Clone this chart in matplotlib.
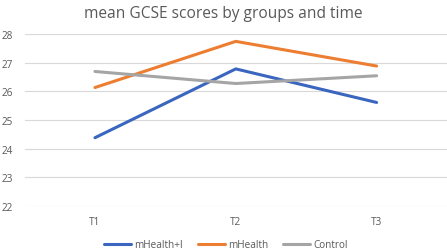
import matplotlib
matplotlib.use("Agg")
import matplotlib.pyplot as plt

categories = ["T1", "T2", "T3"]
mhealth_i = [24.38, 26.78, 25.61]
mhealth = [26.13, 27.74, 26.88]
control = [26.69, 26.27, 26.54]
yticks = [22, 23, 24, 25, 26, 27, 28]

plt.rcParams['font.family'] = ['Open Sans', 'DejaVu Sans']
fig = plt.figure(figsize=(4.47, 2.53), dpi=100)
ax = fig.add_axes([0.055, 0.182, 0.945, 0.68])

x = range(len(categories))
ax.plot(x, mhealth_i, color="#3A66BF", lw=2.2, label="mHealth+I", solid_capstyle="round")
ax.plot(x, mhealth, color="#ED7D31", lw=2.2, label="mHealth", solid_capstyle="round")
ax.plot(x, control, color="#A5A5A5", lw=2.2, label="Control", solid_capstyle="round")

ax.set_xlim(-0.5, 2.5)
ax.set_ylim(22, 28)
ax.set_yticks(yticks)
ax.set_xticks(list(x))
ax.set_xticklabels(categories)
ax.grid(axis="y", color="#D9D9D9", lw=0.8)
ax.set_axisbelow(True)
for s in ax.spines.values():
    s.set_visible(False)
ax.tick_params(length=0, labelsize=7.2, colors="#595959")
ax.tick_params(axis="x", pad=7.5)
ax.tick_params(axis="y", pad=16.5)
for lbl in ax.get_yticklabels():
    lbl.set_horizontalalignment("left")

fig.suptitle("mean GCSE scores by groups and time", x=0.5, y=0.978, fontsize=11.2, color="#595959")
fig.legend(loc="lower center", bbox_to_anchor=(0.505, -0.028), ncol=3, frameon=False,
           fontsize=7.2, labelcolor="#595959", handlelength=2.7, handletextpad=0.3, columnspacing=1.5)
fig.savefig("out.png", dpi=100)
